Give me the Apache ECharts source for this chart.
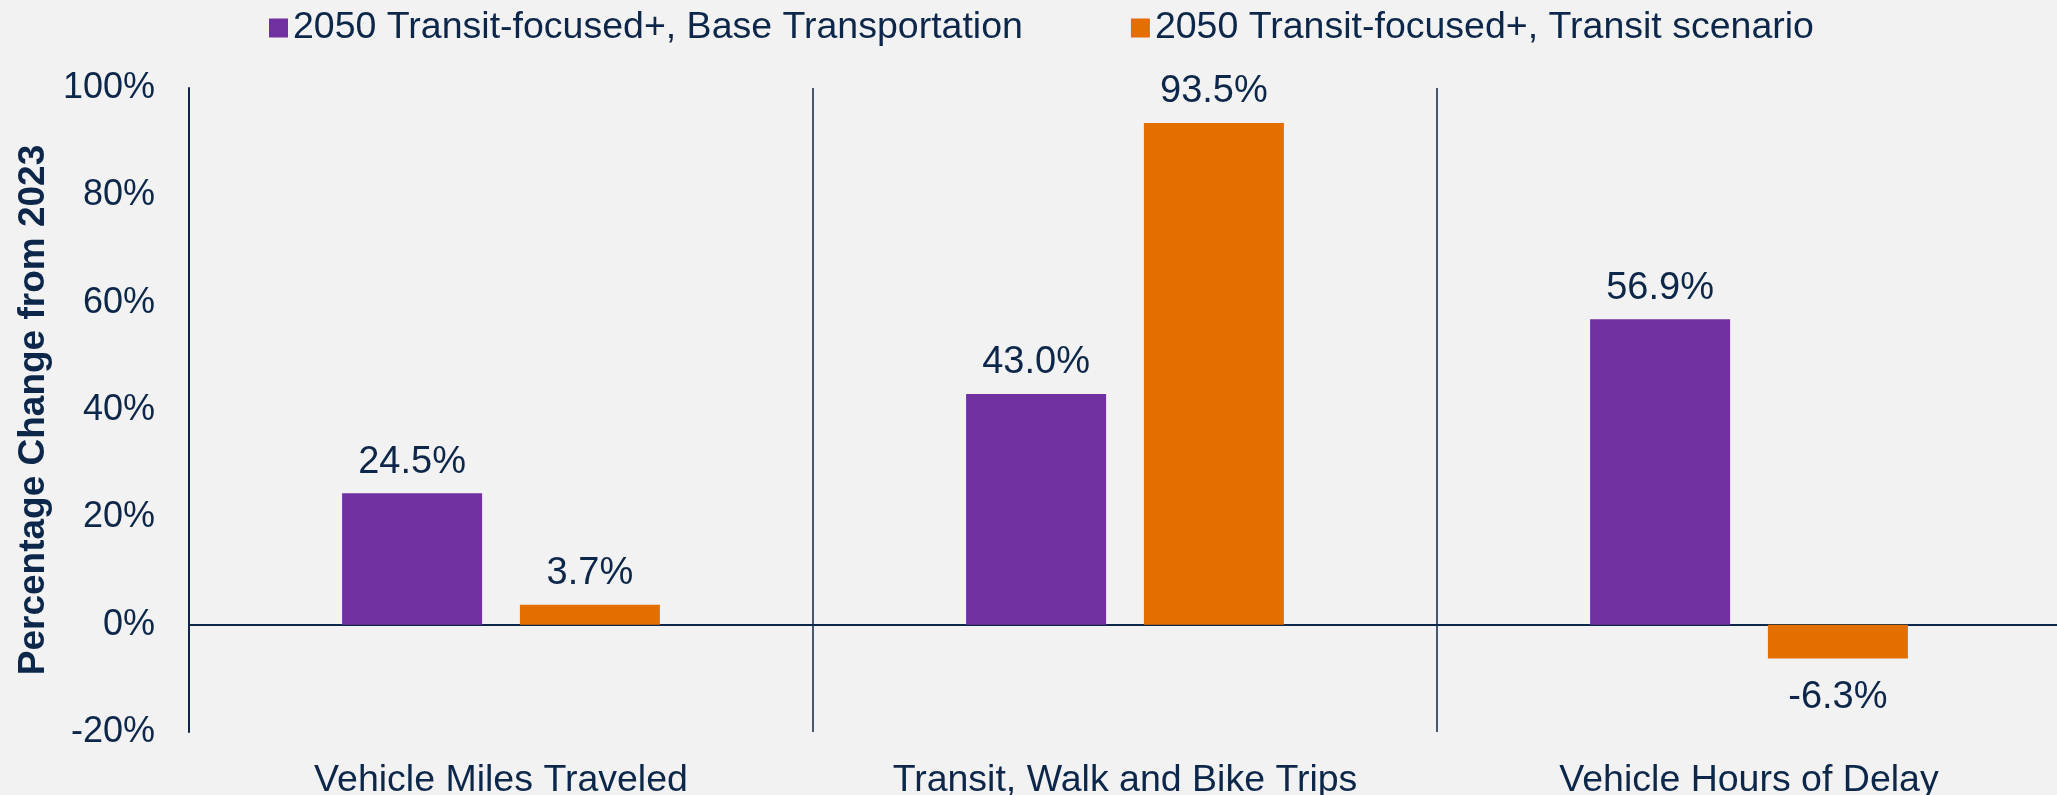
<!DOCTYPE html>
<html>
<head>
    <meta charset="utf-8">
    <title>Percentage Change from 2023</title>
    <script src="https://cdn.jsdelivr.net/npm/echarts@6/dist/echarts.min.js"></script>
    <style>
        html, body { margin: 0; padding: 0; background: #f2f2f2; }
        #main { width: 2057px; height: 795px; }
    </style>
</head>
<body>
<div id="main"></div>
<script>
    var categories = ['Vehicle Miles Traveled', 'Transit, Walk and Bike Trips', 'Vehicle Hours of Delay'];
    var seriesNames = ['2050 Transit-focused+, Base Transportation', '2050 Transit-focused+, Transit scenario'];
    var baseValues = [24.5, 43.0, 56.9];
    var transitValues = [3.7, 93.5, -6.3];

    var navy = '#0c2749';
    var font = 'Liberation Sans, Arial, sans-serif';

    // negative bars get their label underneath
    function toData(arr) {
        return arr.map(function (v) {
            if (v < 0) {
                return {value: v, label: {position: 'bottom', distance: 20}};
            }
            return {value: v, label: {position: 'top'}};
        });
    }

    var labelOpt = {
        show: true,
        distance: 12,
        color: navy,
        fontSize: 38,
        fontFamily: font,
        formatter: function (p) { return p.value.toFixed(1) + '%'; }
    };

    var myChart = echarts.init(document.getElementById('main'));
    var option = {
        backgroundColor: '#f2f2f2',
        textStyle: {fontFamily: font, color: navy},
        legend: {
            left: 264,
            top: 4,
            itemWidth: 19,
            itemHeight: 19,
            itemGap: 108,
            icon: 'rect',
            textStyle: {fontSize: 37.5, color: navy, fontFamily: font},
            data: seriesNames
        },
        grid: {left: 189, top: 88, bottom: 63, width: 1872, outerBoundsMode: 'none'},
        xAxis: {
            type: 'category',
            data: categories,
            axisTick: {show: false},
            axisLine: {onZero: true, lineStyle: {color: navy, width: 2}},
            splitLine: {show: true, interval: 0, lineStyle: {color: navy, width: 1.5}},
            axisLabel: {margin: 30, fontSize: 37.5, color: navy, fontFamily: font, interval: 0}
        },
        yAxis: {
            type: 'value',
            min: -20,
            max: 100,
            interval: 20,
            name: 'Percentage Change from 2023',
            nameLocation: 'middle',
            nameGap: 136,
            nameTextStyle: {fontSize: 37, fontWeight: 'bold', color: navy, fontFamily: font},
            axisLine: {show: true, lineStyle: {color: navy, width: 2}},
            axisTick: {show: false},
            splitLine: {show: false},
            axisLabel: {margin: 34, fontSize: 36, color: navy, fontFamily: font, formatter: '{value}%'}
        },
        series: [
            {
                name: seriesNames[0],
                type: 'bar',
                data: toData(baseValues),
                barWidth: 140,
                barGap: '27%',
                itemStyle: {color: '#7030a0'},
                label: labelOpt
            },
            {
                name: seriesNames[1],
                type: 'bar',
                data: toData(transitValues),
                barWidth: 140,
                barGap: '27%',
                itemStyle: {color: '#e36f00'},
                label: labelOpt
            }
        ]
    };
    myChart.setOption(option);
</script>
</body>
</html>
